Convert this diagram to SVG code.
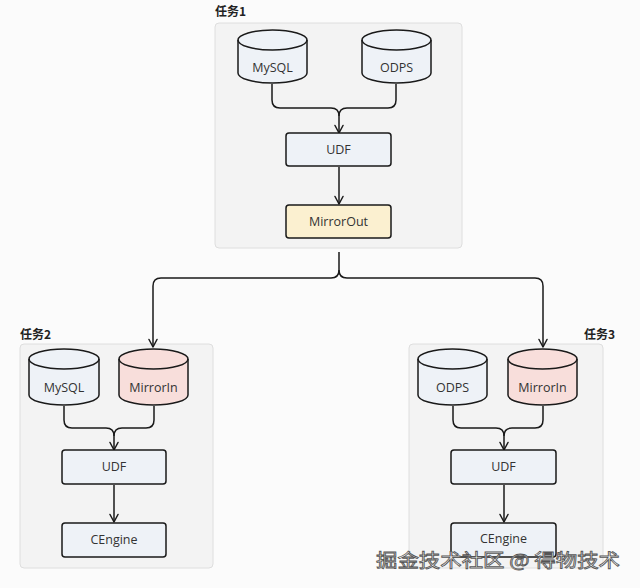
<svg xmlns="http://www.w3.org/2000/svg" width="640" height="588" viewBox="0 0 640 588">
<defs>
<marker id="arr" viewBox="0 0 10 10" refX="9.5" refY="5" markerWidth="10" markerHeight="10" markerUnits="userSpaceOnUse" orient="auto">
<path d="M2,1 L9.5,5 L2,9" fill="none" stroke="#1a1a1a" stroke-width="1.5" stroke-linejoin="round" stroke-linecap="round"/>
</marker>
</defs>
<style>
.bg{fill:#fbfbfb}
.grp{fill:#f3f3f3;stroke:#dedede;stroke-width:1}
.glab{font-family:"Noto Sans CJK SC","Noto Sans",sans-serif;font-size:12px;font-weight:bold;fill:#222}
.box{stroke:#1a1a1a;stroke-width:1.5}
.blue{fill:#eef2f7}
.pink{fill:#f8dedb}
.yel{fill:#fbf0d0}
.t{font-family:"Open Sans","Noto Sans",sans-serif;font-size:12.5px;fill:#333;text-anchor:middle}
.c{fill:none;stroke:#1a1a1a;stroke-width:1.5;stroke-linejoin:round}
.wm{font-family:"Noto Sans CJK SC",sans-serif;font-size:18px;fill:#ffffff;stroke:#555;stroke-width:0.8}
</style>
<rect class="bg" x="0" y="0" width="640" height="588"/>

<g id="task1">
<rect class="grp" x="215" y="23" width="247" height="225" rx="4"/>
<text class="glab" x="215" y="16">任务1</text>
</g>
<g id="task2">
<rect class="grp" x="20" y="344" width="193" height="224" rx="4"/>
<text class="glab" x="20" y="339">任务2</text>
</g>
<g id="task3">
<rect class="grp" x="409" y="344" width="194" height="224" rx="4"/>
<text class="glab" x="584" y="339">任务3</text>
</g>

<g id="connectors">
<path class="c" d="M272,84 V100 Q272,108 280,108 H331 Q339,108 339,116 V133" marker-end="url(#arr)"/>
<path class="c" d="M396,84 V100 Q396,108 388,108 H347 Q339,108 339,116"/>
<path class="c" d="M339,167 V204" marker-end="url(#arr)"/>
<path class="c" d="M339,252 V270 Q339,278 331,278 H161 Q153,278 153,286 V347" marker-end="url(#arr)"/>
<path class="c" d="M339,270 Q339,278 347,278 H535 Q543,278 543,286 V347" marker-end="url(#arr)"/>
<path class="c" d="M64,406 V420 Q64,428 72,428 H106 Q114,428 114,436 V450" marker-end="url(#arr)"/>
<path class="c" d="M154,406 V420 Q154,428 146,428 H122 Q114,428 114,436"/>
<path class="c" d="M114,485 V522" marker-end="url(#arr)"/>
<path class="c" d="M453,406 V420 Q453,428 461,428 H496 Q504,428 504,436 V450" marker-end="url(#arr)"/>
<path class="c" d="M543,406 V420 Q543,428 535,428 H512 Q504,428 504,436"/>
<path class="c" d="M504,485 V522" marker-end="url(#arr)"/>
</g>

<g id="t1-mysql">
<path class="box blue" d="M238,40 A34.5,10 0 0 1 307,40 V73 A34.5,10 0 0 1 238,73 Z"/>
<path class="box" fill="none" d="M238,40 A34.5,10 0 0 0 307,40"/>
<text class="t" x="272.5" y="72">MySQL</text>
</g>
<g id="t1-odps">
<path class="box blue" d="M362,40 A34.5,10 0 0 1 431,40 V73 A34.5,10 0 0 1 362,73 Z"/>
<path class="box" fill="none" d="M362,40 A34.5,10 0 0 0 431,40"/>
<text class="t" x="396.5" y="72">ODPS</text>
</g>
<g id="t1-udf">
<rect class="box blue" x="286" y="133" width="105" height="33" rx="3"/>
<text class="t" x="338.5" y="154">UDF</text>
</g>
<g id="t1-mirrorout">
<rect class="box yel" x="286" y="205" width="105" height="33" rx="3"/>
<text class="t" x="338.5" y="226">MirrorOut</text>
</g>

<g id="t2-mysql">
<path class="box blue" d="M29,359 A35,10 0 0 1 99,359 V395 A35,10 0 0 1 29,395 Z"/>
<path class="box" fill="none" d="M29,359 A35,10 0 0 0 99,359"/>
<text class="t" x="64" y="392">MySQL</text>
</g>
<g id="t2-mirrorin">
<path class="box pink" d="M119,359 A34.5,10 0 0 1 188,359 V395 A34.5,10 0 0 1 119,395 Z"/>
<path class="box" fill="none" d="M119,359 A34.5,10 0 0 0 188,359"/>
<text class="t" x="153.5" y="392">MirrorIn</text>
</g>
<g id="t2-udf">
<rect class="box blue" x="62" y="450" width="104" height="34" rx="3"/>
<text class="t" x="114" y="471">UDF</text>
</g>
<g id="t2-cengine">
<rect class="box blue" x="62" y="523" width="104" height="34" rx="3"/>
<text class="t" x="114" y="544">CEngine</text>
</g>

<g id="t3-odps">
<path class="box blue" d="M418,359 A34.5,10 0 0 1 487,359 V395 A34.5,10 0 0 1 418,395 Z"/>
<path class="box" fill="none" d="M418,359 A34.5,10 0 0 0 487,359"/>
<text class="t" x="452.5" y="392">ODPS</text>
</g>
<g id="t3-mirrorin">
<path class="box pink" d="M508,359 A34.5,10 0 0 1 577,359 V395 A34.5,10 0 0 1 508,395 Z"/>
<path class="box" fill="none" d="M508,359 A34.5,10 0 0 0 577,359"/>
<text class="t" x="542.5" y="392">MirrorIn</text>
</g>
<g id="t3-udf">
<rect class="box blue" x="451" y="450" width="105" height="34" rx="3"/>
<text class="t" x="503.5" y="471">UDF</text>
</g>
<g id="t3-cengine">
<rect class="box blue" x="451" y="523" width="105" height="34" rx="3"/>
<text class="t" x="503.5" y="543">CEngine</text>
</g>

<text class="wm" x="376" y="567" textLength="244" lengthAdjust="spacingAndGlyphs">掘金技术社区 @ 得物技术</text>
</svg>
